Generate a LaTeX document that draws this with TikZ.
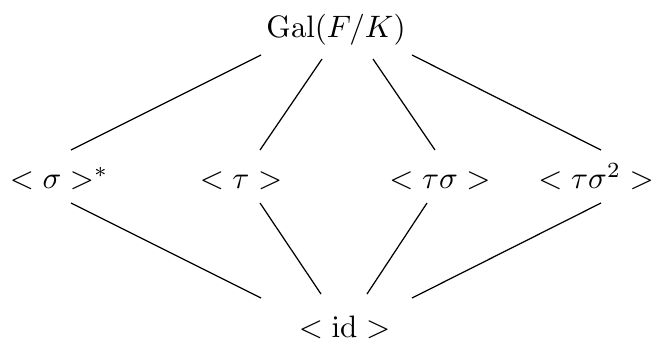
\documentclass[tikz,border=0pt]{standalone}
\begin{document}
\begin{tikzpicture}[x=0.3226pt,y=-0.3226pt,
  lbl/.style={anchor=base,inner sep=0pt,outer sep=0pt},
  edge/.style={line width=0.4pt,black}]
\useasboundingbox (0,0) rectangle (653,342);
% nodes
\node[lbl] (gal) at (336,37) {$\mathrm{Gal}(F/K)$};
\node[lbl] (sig) at (52,188.5) {$<\sigma>$\rlap{$^*$}};
\node[lbl] (tau) at (241,188.5) {$<\tau>$};
\node[lbl] (ts) at (440,188.5) {$<\tau\sigma>$};
\node[lbl] (tss) at (596,188.5) {$<\tau\sigma^2>$};
\node[lbl] (id) at (344.5,337) {$<\mathrm{id}>$};
% connector end points
\coordinate (t1) at (261,55);  \coordinate (b1) at (71,150);
\coordinate (t2) at (322,59);  \coordinate (b2) at (260,150);
\coordinate (t3) at (373,59);  \coordinate (b3) at (435,150);
\coordinate (t4) at (412,55);  \coordinate (b4) at (601,150);
\coordinate (u1) at (71,203);  \coordinate (d1) at (261,298);
\coordinate (u2) at (260,203); \coordinate (d2) at (321,294);
\coordinate (u3) at (427,203); \coordinate (d3) at (367,294);
\coordinate (u4) at (601,203); \coordinate (d4) at (412,298);
% connectors
\draw[edge] (t1) -- (b1);
\draw[edge] (t2) -- (b2);
\draw[edge] (t3) -- (b3);
\draw[edge] (t4) -- (b4);
\draw[edge] (u1) -- (d1);
\draw[edge] (u2) -- (d2);
\draw[edge] (u3) -- (d3);
\draw[edge] (u4) -- (d4);
\end{tikzpicture}
\end{document}
